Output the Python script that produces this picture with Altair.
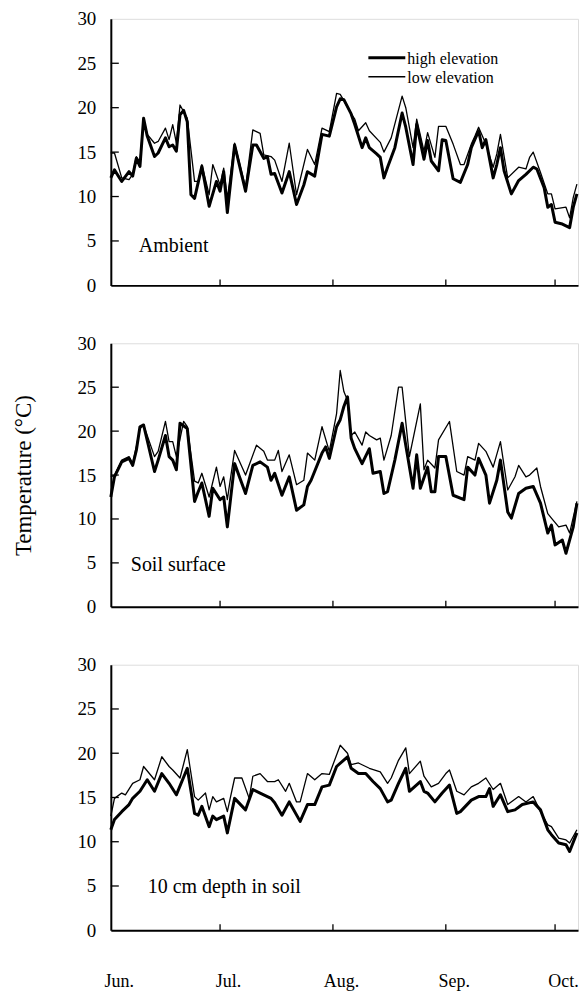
import altair as alt
import pandas as pd

# ---------------- data (day = days since 1 June) ----------------
series_names = ["high elevation", "low elevation"]
panel_titles = ["Ambient", "Soil surface", "10 cm depth in soil"]
month_labels = ["Jun.", "Jul.", "Aug.", "Sep.", "Oct."]
month_days = [0, 30, 61, 92, 122]
y_ticks = [0, 5, 10, 15, 20, 25, 30]
y_title = "Temperature (\u00b0C)"

amb_high_day = [0, 1, 3, 5, 6, 7, 8, 9, 10, 12, 13, 15, 16, 17, 18, 19, 20, 21, 22, 23,
                25, 27, 29, 30, 31, 32, 34, 37, 39, 40, 42, 43, 44, 45, 47, 49, 51, 53, 54, 56,
                58, 60, 62, 63, 64, 66, 67, 69, 70, 71, 73, 74, 75, 76, 78, 80, 81, 83, 84, 86,
                87, 88, 90, 91, 92, 94, 96, 98, 99, 101, 102, 103, 105, 106, 107, 108, 110, 112, 114, 116,
                117, 119, 120, 121, 122, 124, 126, 127, 128]
amb_high_val = [12.1, 13.0, 11.7, 12.8, 12.3, 14.3, 13.4, 18.8, 16.8, 14.5, 14.9, 16.6, 15.6, 15.8, 15.1, 19.2, 19.7, 18.4, 10.2, 9.8,
                13.4, 8.9, 11.7, 10.6, 12.8, 8.2, 15.8, 10.6, 15.8, 15.8, 14.3, 14.5, 12.5, 12.6, 10.4, 12.8, 9.1, 11.3, 12.8, 12.3,
                17.0, 16.8, 20.1, 21.0, 20.9, 19.3, 18.1, 15.5, 16.6, 15.5, 14.8, 14.4, 12.1, 13.3, 15.5, 19.4, 17.8, 13.6, 18.1, 14.2,
                16.3, 14.0, 12.9, 16.4, 16.3, 12.0, 11.6, 13.6, 15.5, 17.4, 15.5, 16.4, 12.1, 13.6, 15.5, 12.9, 10.3, 11.8, 12.5, 13.3,
                13.1, 11.0, 8.8, 9.1, 7.1, 6.9, 6.5, 8.8, 10.3]

amb_low_day = [0, 1, 3, 5, 6, 7, 8, 9, 10, 12, 13, 15, 16, 17, 18, 19, 21, 23, 24, 25,
               27, 28, 30, 31, 32, 34, 37, 39, 41, 42, 44, 45, 47, 49, 51, 54, 56, 58, 60, 62,
               63, 64, 66, 67, 68, 70, 71, 74, 75, 77, 80, 81, 83, 84, 86, 87, 89, 90, 92, 94,
               96, 97, 99, 100, 101, 103, 105, 106, 107, 109, 112, 114, 115, 116, 118, 120, 121, 122, 125, 126,
               127, 128]
amb_low_val = [14.9, 14.9, 12.1, 11.9, 12.5, 14.5, 13.9, 18.8, 17.0, 16.0, 16.2, 17.7, 16.4, 18.1, 16.0, 20.3, 18.8, 11.7, 11.7, 13.6,
               10.2, 13.6, 11.3, 13.2, 9.8, 16.0, 11.0, 17.5, 17.1, 14.7, 14.5, 14.1, 11.7, 16.0, 10.2, 15.3, 13.6, 17.7, 17.3, 21.6,
               21.5, 20.8, 19.3, 18.7, 17.4, 18.3, 17.4, 16.1, 15.0, 16.6, 21.3, 20.0, 15.5, 18.7, 15.1, 17.2, 14.4, 17.9, 17.9, 15.9,
               13.6, 13.6, 15.9, 16.8, 17.8, 15.9, 13.3, 14.8, 17.0, 12.1, 13.3, 13.1, 14.4, 15.0, 12.7, 10.3, 10.3, 8.6, 8.8, 7.6,
               9.9, 11.4]

soil_high_day = [0, 1, 3, 5, 6, 7, 8, 9, 12, 13, 15, 16, 17, 18, 19, 21, 23, 24, 25, 27,
                 28, 30, 31, 32, 34, 37, 39, 41, 43, 44, 45, 47, 49, 51, 53, 54, 55, 58, 59, 60,
                 62, 63, 64, 65, 66, 67, 69, 71, 72, 74, 75, 76, 78, 80, 81, 83, 84, 85, 87, 88,
                 89, 90, 92, 94, 97, 98, 100, 101, 103, 104, 106, 107, 109, 110, 112, 114, 116, 118, 120, 121,
                 122, 124, 125, 127, 128]
soil_high_val = [12.5, 14.8, 16.5, 16.9, 16.1, 17.8, 20.5, 20.7, 15.4, 16.7, 19.5, 17.1, 16.7, 15.6, 20.9, 20.3, 12.0, 13.1, 14.1, 10.3,
                 13.5, 12.2, 12.5, 9.1, 16.3, 12.9, 16.1, 16.5, 15.9, 14.4, 15.2, 12.7, 14.8, 11.0, 11.6, 13.7, 14.4, 17.5, 18.2, 16.9,
                 20.5, 21.3, 22.8, 23.9, 19.2, 18.0, 16.3, 18.0, 15.2, 15.4, 12.9, 13.1, 16.7, 20.9, 18.4, 13.5, 17.3, 13.5, 15.9, 13.1,
                 13.1, 17.1, 17.1, 12.7, 12.2, 15.9, 15.0, 16.9, 15.0, 11.8, 14.4, 16.7, 10.8, 10.1, 12.9, 13.5, 13.7, 11.8, 8.4, 9.3,
                 7.05, 7.6, 6.1, 9.1, 11.8]

soil_low_day = [0, 1, 3, 5, 6, 7, 8, 9, 12, 13, 15, 16, 17, 18, 20, 21, 23, 24, 25, 27,
                29, 30, 31, 32, 34, 37, 40, 42, 43, 45, 46, 47, 49, 51, 53, 54, 56, 58, 60, 62,
                63, 64, 65, 66, 67, 69, 70, 71, 73, 74, 75, 77, 79, 80, 82, 85, 86, 87, 89, 90,
                93, 95, 97, 98, 100, 101, 103, 105, 107, 109, 111, 112, 114, 115, 117, 118, 120, 121, 123, 125,
                126, 128]
soil_low_val = [14.8, 15.0, 16.7, 17.1, 16.3, 18.2, 20.3, 20.7, 17.1, 17.7, 21.1, 18.8, 18.8, 17.1, 21.1, 20.5, 14.3, 14.1, 15.2, 12.5,
                15.9, 13.7, 14.8, 12.2, 17.8, 15.0, 18.4, 17.7, 16.7, 16.7, 17.8, 15.4, 17.3, 13.9, 14.4, 17.5, 16.7, 20.5, 17.7, 22.0,
                26.9, 24.5, 23.5, 19.5, 19.9, 18.4, 19.9, 19.5, 19.0, 19.2, 16.7, 19.5, 25.0, 25.0, 17.1, 23.1, 15.6, 16.7, 15.8, 19.0,
                21.1, 15.4, 15.0, 17.1, 16.7, 18.6, 17.7, 15.9, 18.8, 13.3, 14.8, 16.1, 14.8, 15.0, 15.8, 13.7, 10.6, 10.1, 9.1, 9.3,
                8.4, 12.0]

cm10_high_day = [0, 1, 3, 5, 6, 8, 10, 12, 14, 16, 18, 21, 23, 24, 25, 27, 28, 29, 31, 32,
                 34, 37, 39, 41, 44, 45, 47, 49, 52, 54, 56, 58, 60, 62, 65, 66, 68, 70, 72, 74,
                 76, 77, 79, 81, 82, 85, 86, 87, 89, 91, 93, 95, 96, 99, 101, 103, 104, 105, 107, 109,
                 111, 113, 116, 118, 120, 121, 123, 125, 126, 128]
cm10_high_val = [11.35, 12.5, 13.4, 14.2, 14.9, 15.7, 17.0, 15.7, 17.7, 16.6, 15.3, 18.3, 13.2, 13.0, 14.0, 11.7, 12.9, 12.5, 12.9, 11.0,
                 14.9, 13.6, 15.9, 15.5, 14.9, 14.4, 13.0, 14.5, 12.3, 14.2, 14.2, 16.2, 16.4, 18.5, 19.6, 18.3, 17.7, 17.7, 16.8, 16.0,
                 14.5, 14.7, 16.6, 18.3, 15.7, 16.8, 15.7, 15.5, 14.5, 15.5, 16.4, 13.2, 13.4, 14.7, 15.1, 15.1, 16.0, 14.0, 15.3, 13.4,
                 13.6, 14.2, 14.5, 13.6, 11.35, 10.8, 9.85, 9.66, 8.9, 11.0]

cm10_low_day = [0, 1, 3, 4, 6, 8, 9, 12, 14, 16, 17, 19, 21, 23, 24, 26, 27, 28, 29, 31,
                32, 34, 36, 38, 39, 41, 43, 45, 46, 48, 49, 51, 52, 54, 56, 58, 60, 63, 65, 66,
                68, 70, 71, 74, 76, 77, 79, 81, 82, 85, 86, 88, 90, 92, 93, 95, 97, 99, 101, 103,
                105, 107, 109, 112, 114, 116, 118, 120, 121, 123, 125, 126, 128]
cm10_low_val = [12.9, 14.9, 15.5, 15.3, 16.6, 17.0, 18.5, 17.0, 19.6, 18.5, 18.1, 17.2, 20.4, 15.1, 14.7, 15.5, 13.6, 15.1, 14.5, 14.9,
                13.4, 17.2, 17.2, 14.9, 17.4, 17.7, 16.8, 16.8, 17.0, 15.7, 16.6, 14.5, 14.5, 17.7, 17.0, 17.7, 17.6, 20.9, 20.0, 18.7,
                18.9, 18.5, 18.3, 17.9, 16.6, 17.2, 19.2, 20.6, 17.7, 19.1, 17.4, 16.2, 16.6, 17.7, 18.1, 15.7, 15.3, 16.2, 16.6, 17.2,
                15.9, 16.6, 14.2, 15.1, 14.5, 15.1, 13.4, 11.9, 11.7, 10.4, 10.2, 9.85, 11.35]

panels_data = [
    (amb_high_day, amb_high_val, amb_low_day, amb_low_val),
    (soil_high_day, soil_high_val, soil_low_day, soil_low_val),
    (cm10_high_day, cm10_high_val, cm10_low_day, cm10_low_val),
]

# ---------------- styling ----------------
FONT = "Liberation Serif"
W = 468
HEIGHTS = [267, 264, 266]
X_END = 128.3
LINE_W = [3.0, 1.3]

label_expr = " : ".join(
    f"datum.value == {d} ? '{m}'" for d, m in zip(month_days, month_labels)
) + " : ''"


def make_panel(i):
    hd, hv, ld, lv = panels_data[i]
    H = HEIGHTS[i]
    bottom = i == 2
    middle = i == 1

    x_enc = alt.X(
        "day:Q",
        scale=alt.Scale(domain=[0, X_END], nice=False, zero=False),
        axis=alt.Axis(
            values=month_days, ticks=False, grid=False, labels=bottom,
            labelExpr=label_expr, labelFont=FONT, labelFontSize=18, labelColor="black",
            labelPadding=42, labelOffset=8, labelFlush=False, labelOverlap=False,
            domainColor="black", domainWidth=2, title=None,
        ),
    )
    y_enc = alt.Y(
        "temp:Q",
        scale=alt.Scale(domain=[0, 30], nice=False),
        axis=alt.Axis(
            values=y_ticks, ticks=False, grid=False,
            labelFont=FONT, labelFontSize=19, labelColor="black", labelPadding=15,
            domainColor="black", domainWidth=2,
            title=y_title if middle else None,
            titleFont=FONT, titleFontSize=23, titleFontWeight="normal",
            titleColor="black", titlePadding=41,
        ),
    )

    high_df = pd.DataFrame({"day": hd, "temp": hv, "series": series_names[0]})
    low_df = pd.DataFrame({"day": ld, "temp": lv, "series": series_names[1]})

    high_line = alt.Chart(high_df).mark_line(color="black", strokeWidth=LINE_W[0],
                                             strokeJoin="round").encode(x=x_enc, y=y_enc)
    low_line = alt.Chart(low_df).mark_line(color="black", strokeWidth=LINE_W[1],
                                           strokeJoin="round").encode(x=x_enc, y=y_enc)

    ytick_df = pd.DataFrame({"temp": y_ticks[1:-1]})
    yticks = alt.Chart(ytick_df).mark_rule(color="black", strokeWidth=1.3).encode(
        y=y_enc, x=alt.value(0), x2=alt.value(8))
    xtick_df = pd.DataFrame({"day": month_days[1:]})
    xticks = alt.Chart(xtick_df).mark_rule(color="black", strokeWidth=1.3).encode(
        x=x_enc, y=alt.value(H), y2=alt.value(H - 6))

    label_pos = [(28, 234), (20, 228), (37, 229)][i]
    lab = alt.Chart(pd.DataFrame({"label": [panel_titles[i]]})).mark_text(
        align="left", baseline="alphabetic", font=FONT, fontSize=20, color="black"
    ).encode(text="label:N", x=alt.value(label_pos[0]), y=alt.value(label_pos[1]))

    layers = [low_line, high_line, yticks, xticks, lab]

    if i == 0:
        for k, name in enumerate(series_names):
            yy = 39 + 19 * k
            layers.append(
                alt.Chart(pd.DataFrame({"s": [name]})).mark_rule(
                    color="black", strokeWidth=LINE_W[k]
                ).encode(x=alt.value(258), x2=alt.value(295), y=alt.value(yy))
            )
            layers.append(
                alt.Chart(pd.DataFrame({"s": [name]})).mark_text(
                    align="left", baseline="middle", font=FONT, fontSize=16, color="black"
                ).encode(text="s:N", x=alt.value(297), y=alt.value(yy + 1))
            )

    return alt.layer(*layers).properties(width=W, height=H)


chart = alt.vconcat(
    make_panel(0), make_panel(1), make_panel(2), spacing=58, bounds="flush"
).properties(
    padding={"left": 4, "top": 0, "right": 0, "bottom": 0}
).configure_view(
    stroke="black", strokeWidth=1.3
).configure(
    font=FONT
)

chart.save("out.html", embed_options={"renderer": "svg", "actions": False})
